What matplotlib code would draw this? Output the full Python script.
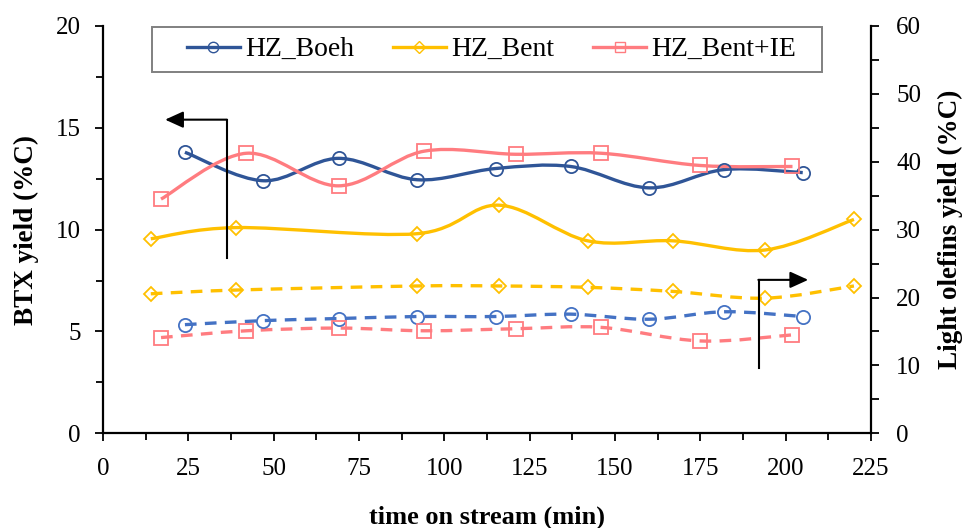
import numpy as np
import matplotlib
matplotlib.use("Agg")
import matplotlib.pyplot as plt
from matplotlib.path import Path
from matplotlib.patches import PathPatch, Rectangle
from matplotlib.lines import Line2D
from matplotlib.ticker import MultipleLocator

plt.rcParams['font.family'] = ['Liberation Serif', 'DejaVu Serif']

# BTX yield (%C), left axis
boeh_t = [24, 47, 69, 92, 115, 137, 160, 182, 205]
boeh_btx = [13.8, 12.4, 13.5, 12.45, 13.0, 13.1, 12.05, 12.95, 12.8]
bent_t = [14, 39, 92, 116, 142, 167, 194, 220]
bent_btx = [9.55, 10.1, 9.8, 11.2, 9.45, 9.45, 9.0, 10.5]
bentie_t = [17, 42, 69, 94, 121, 146, 175, 202]
bentie_btx = [11.5, 13.75, 12.15, 13.85, 13.7, 13.75, 13.15, 13.1]

# Light olefins yield (%C), right axis
boeh_olef = [16.0, 16.6, 16.9, 17.2, 17.2, 17.55, 16.8, 17.9, 17.2]
bent_olef = [20.55, 21.1, 21.7, 21.7, 21.5, 20.9, 19.9, 21.7]
bentie_olef = [14.1, 15.1, 15.5, 15.1, 15.4, 15.6, 13.6, 14.5]

names = ['HZ_Boeh', 'HZ_Bent', 'HZ_Bent+IE']


def smooth_path(x, y):
    # Excel-like smoothed line: Catmull-Rom as cubic Bezier segments
    pts = np.column_stack([x, y]).astype(float)
    verts = [pts[0]]
    codes = [Path.MOVETO]
    n = len(pts)
    for i in range(n - 1):
        p0 = pts[i - 1] if i > 0 else pts[i]
        p1 = pts[i]
        p2 = pts[i + 1]
        p3 = pts[i + 2] if i + 2 < n else pts[i + 1]
        c1 = p1 + (p2 - p0) / 6.0
        c2 = p2 - (p3 - p1) / 6.0
        verts += [c1, c2, p2]
        codes += [Path.CURVE4] * 3
    return Path(verts, codes)


def draw(ax, x, y, color, marker, ls):
    patch = PathPatch(smooth_path(x, y), fill=False, edgecolor=color,
                      lw=2.4, linestyle=ls, capstyle='butt', zorder=2)
    ax.add_patch(patch)
    ax.plot(x, y, linestyle='none', marker=marker, ms=marker_size[marker],
            mfc='none', mec=color, mew=1.3, zorder=3)


marker_size = {'o': 9.5, 'D': 7.5, 's': 9.5}
dash = (0, (3.5, 2.5))

fig = plt.figure(figsize=(9.68, 5.28), dpi=100)
ax = fig.add_axes([0.1064, 0.1794, 0.7934, 0.7714])
ax2 = ax.twinx()

draw(ax, boeh_t, boeh_btx, '#2F5597', 'o', '-')
draw(ax, bent_t, bent_btx, '#FFC000', 'D', '-')
draw(ax, bentie_t, bentie_btx, '#FF7C80', 's', '-')
draw(ax2, boeh_t, boeh_olef, '#4472C4', 'o', dash)
draw(ax2, bent_t, bent_olef, '#FFC000', 'D', dash)
draw(ax2, bentie_t, bentie_olef, '#FF7C80', 's', dash)

ax.set_xlim(0, 225)
ax.set_ylim(0, 20)
ax2.set_ylim(0, 60)
ax.xaxis.set_major_locator(MultipleLocator(25))
ax.xaxis.set_minor_locator(MultipleLocator(12.5))
ax.yaxis.set_major_locator(MultipleLocator(5))
ax.yaxis.set_minor_locator(MultipleLocator(2.5))
ax2.yaxis.set_major_locator(MultipleLocator(10))
ax2.yaxis.set_minor_locator(MultipleLocator(5))

for a in (ax, ax2):
    a.spines['top'].set_visible(False)
    for s in a.spines.values():
        s.set_linewidth(1.6)
ax.spines['right'].set_visible(False)
ax2.spines['left'].set_visible(False)
ax2.spines['bottom'].set_visible(False)

ax.tick_params(axis='both', which='major', direction='out', length=6, width=1.3,
               labelsize=18, pad=10)
ax.tick_params(axis='both', which='minor', direction='out', length=5, width=1.3)
ax.tick_params(axis='x', pad=12)
ax2.tick_params(axis='y', which='major', direction='out', length=6, width=1.3,
                labelsize=18, pad=12)
ax2.tick_params(axis='y', which='minor', direction='out', length=6, width=1.3)

ax.set_xlabel('time on stream (min)', fontsize=19, fontweight='bold', labelpad=18)
ax.set_ylabel('BTX yield (%C)', fontsize=19.5, fontweight='bold', labelpad=12)
ax2.set_ylabel('Light olefins yield (%C)', fontsize=19.5, fontweight='bold', labelpad=12)

# direction arrows
arrow_style = '-|>,head_length=1.1,head_width=0.5'
ax.plot([36.2, 36.2], [8.6, 15.4], color='black', lw=1.5, zorder=4)
ax.annotate('', xy=(18.2, 15.4), xytext=(36.3, 15.4),
            arrowprops=dict(arrowstyle=arrow_style, color='black', lw=1.5,
                            shrinkA=0, shrinkB=0))
ax2.plot([192.1, 192.1], [9.6, 22.6], color='black', lw=1.5, zorder=4)
ax2.annotate('', xy=(206.6, 22.6), xytext=(192.0, 22.6),
             arrowprops=dict(arrowstyle=arrow_style, color='black', lw=1.5,
                             shrinkA=0, shrinkB=0))

handles = [
    Line2D([], [], color='#2F5597', lw=2.4, marker='o', ms=7.5, mfc='none', mec='#2F5597'),
    Line2D([], [], color='#FFC000', lw=2.4, marker='D', ms=6.5, mfc='none', mec='#FFC000'),
    Line2D([], [], color='#FF7C80', lw=2.4, marker='s', ms=7.5, mfc='none', mec='#FF7C80'),
]
leg = ax2.legend(handles, names, ncol=3, loc='center',
                 bbox_to_anchor=(0.506, 0.942), fontsize=20, frameon=False,
                 handlelength=1.9, columnspacing=1.4, handletextpad=0.2,
                 borderpad=0.2, borderaxespad=0)
# legend frame
fig.patches.append(Rectangle((0.157, 0.8636), 0.692, 0.0852, transform=fig.transFigure,
                             fill=False, edgecolor='#808080', lw=1.4, zorder=5))

fig.savefig('out.png', dpi=100)
